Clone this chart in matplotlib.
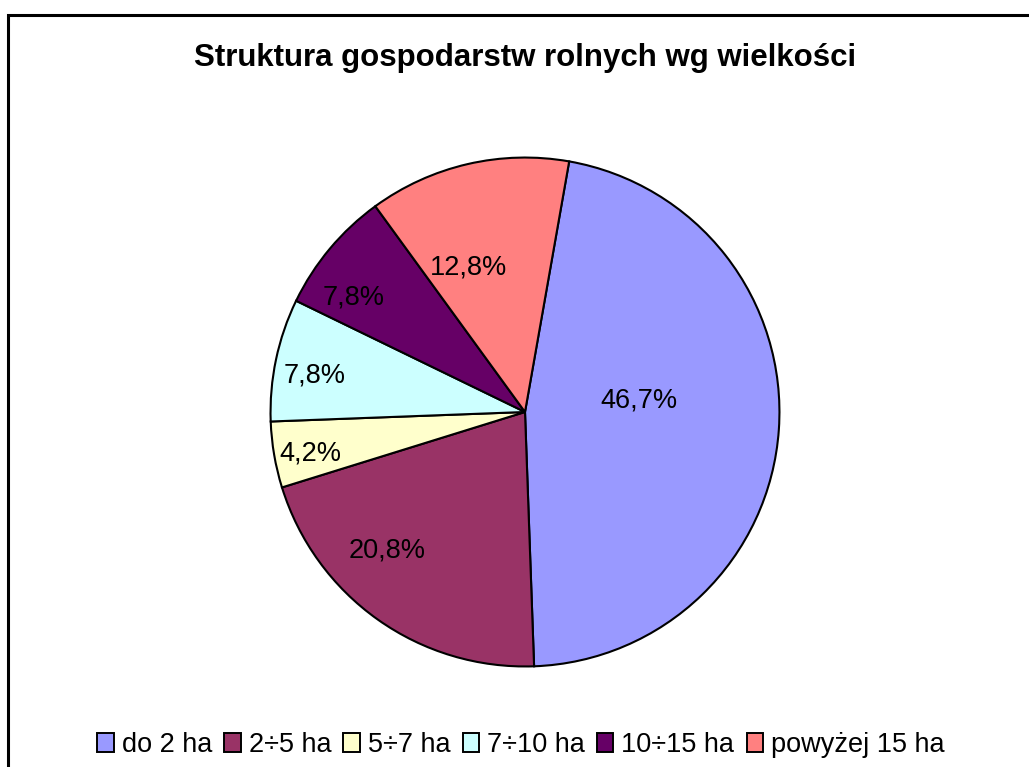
import numpy as np
import matplotlib
matplotlib.use("Agg")
import matplotlib.pyplot as plt
from matplotlib.patches import Rectangle

plt.rcParams['font.family'] = ['Liberation Sans', 'DejaVu Sans']

# data
categories = ["do 2 ha", "2÷5 ha", "5÷7 ha", "7÷10 ha", "10÷15 ha", "powyżej 15 ha"]
shares = [46.7, 20.8, 4.2, 7.8, 7.8, 12.8]
colors = ["#9999FF", "#993366", "#FFFFCC", "#CCFFFF", "#660066", "#FF8080"]
title = "Struktura gospodarstw rolnych wg wielkości"

# label placement (radius as fraction of pie radius, angle shift in degrees)
label_r = [0.45, 0.77, 0.86, 0.84, 0.81, 0.61]
label_shift = [9.5, -9.5, 1.2, 2.0, 6.2, 8.5]

W, H = 1029, 767
fig = plt.figure(figsize=(W / 100, H / 100), dpi=100)

# outer frame (runs off right and bottom)
fig.patches.append(Rectangle((8 / W, -0.1), 1.2, 1 - 15 / H + 0.1,
                             transform=fig.transFigure, fill=False,
                             edgecolor="black", linewidth=2.2))

cx, cy, r = 525, 412, 257
ax = fig.add_axes([(cx - r) / W, (H - cy - r) / H, 2 * r / W, 2 * r / H])

wedges, _ = ax.pie(shares, colors=colors, startangle=80, counterclock=False,
                   wedgeprops=dict(edgecolor="black", linewidth=1.5))
ax.set_xlim(-1.01, 1.01)
ax.set_ylim(-1.01, 1.01)

for w, val, lr, sh in zip(wedges, shares, label_r, label_shift):
    mid = (w.theta1 + w.theta2) / 2 + sh
    x = lr * np.cos(np.radians(mid))
    y = lr * np.sin(np.radians(mid))
    ax.text(x, y, f"{val:.1f}%".replace(".", ","), ha="center", va="center",
            fontsize=19.5, color="black")

fig.text(525 / W, 1 - 58 / H, title, ha="center", va="center",
         fontsize=22.5, fontweight="bold")

handles = [Rectangle((0, 0), 1, 1, facecolor=c, edgecolor="black", linewidth=1.4)
           for c in colors]
fig.legend(handles, categories, loc="center", bbox_to_anchor=(521 / W, 1 - 745 / H),
           ncol=6, frameon=False, fontsize=19.5, handlelength=0.6, handleheight=0.65,
           handletextpad=0.3, columnspacing=0.45, borderpad=0)

fig.savefig("out.png", dpi=100)
